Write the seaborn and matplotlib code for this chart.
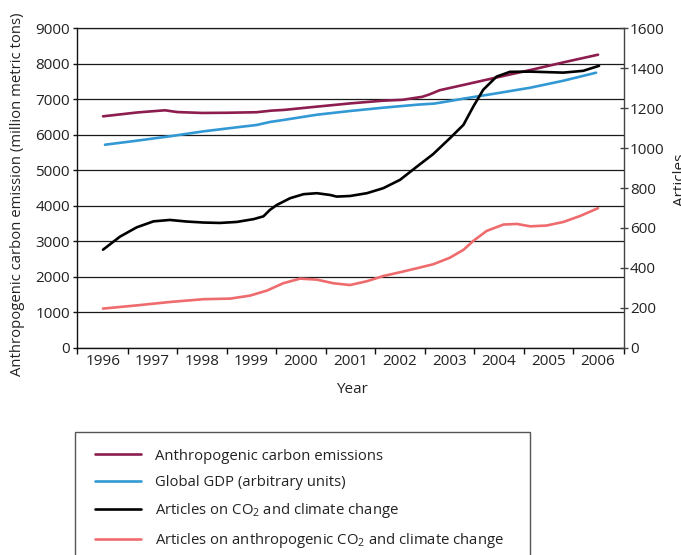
import matplotlib
matplotlib.use("Agg")
import matplotlib.pyplot as plt
from matplotlib.patches import Rectangle
import seaborn as sns

# Anthropogenic carbon emissions (million metric tons), left axis
carbon_years = [1996.0, 1996.7, 1997.25, 1997.5, 1998.0, 1998.5, 1999.1, 1999.4,
                1999.65, 2000.3, 2001.0, 2001.65, 2002.05, 2002.45, 2002.6, 2002.8,
                2003.3, 2004.0, 2004.65, 2005.3, 2006.0]
carbon_vals = [6520, 6630, 6690, 6640, 6615, 6620, 6635, 6680,
               6700, 6790, 6885, 6960, 6985, 7070, 7140, 7255,
               7410, 7630, 7830, 8040, 8256]

# Global GDP (arbitrary units), left axis
gdp_years = [1996.04, 1996.68, 1997.35, 1998.03, 1998.7, 1999.1, 1999.37, 1999.64,
             2000.32, 2000.99, 2001.66, 2002.34, 2002.7, 2003.0, 2003.28, 2003.95,
             2004.63, 2005.3, 2005.96]
gdp_vals = [5720, 5833, 5957, 6097, 6210, 6275, 6360, 6416,
            6565, 6670, 6763, 6847, 6880, 6950, 7017, 7168,
            7326, 7523, 7749]

# Articles on CO2 and climate change, right axis
co2_years = [1996.0, 1996.34, 1996.68, 1997.02, 1997.35, 1997.69, 1998.03, 1998.36,
             1998.7, 1999.04, 1999.24, 1999.37, 1999.51, 1999.78, 2000.05, 2000.32,
             2000.59, 2000.72, 2000.99, 2001.33, 2001.66, 2002.0, 2002.34, 2002.67,
             2003.01, 2003.28, 2003.48, 2003.68, 2003.95, 2004.22, 2004.63, 2005.3,
             2005.7, 2006.02]
co2_vals = [491, 556, 603, 633, 640, 632, 627, 625,
            630, 644, 658, 690, 715, 749, 769, 774,
            765, 757, 760, 774, 799, 841, 907, 970,
            1050, 1116, 1208, 1292, 1358, 1382, 1383, 1378,
            1387, 1412]

# Articles on anthropogenic CO2 and climate change, right axis
anthro_years = [1996.0, 1996.68, 1997.35, 1998.03, 1998.57, 1998.97, 1999.31, 1999.64,
                1999.98, 2000.32, 2000.65, 2000.99, 2001.33, 2001.66, 2002.0, 2002.34,
                2002.67, 2003.0, 2003.28, 2003.48, 2003.75, 2004.09, 2004.36, 2004.63,
                2004.96, 2005.3, 2005.64, 2006.0]
anthro_vals = [196, 212, 229, 243, 246, 261, 286, 323,
               346, 341, 323, 314, 333, 359, 378, 398,
               418, 450, 490, 535, 585, 617, 620, 608,
               612, 630, 660, 699]

year_labels = [str(y) for y in range(1996, 2007)]
left_ticks = list(range(0, 9001, 1000))
right_ticks = list(range(0, 1601, 200))

labels = [
    "Anthropogenic carbon emissions",
    "Global GDP (arbitrary units)",
    "Articles on CO$_2$ and climate change",
    "Articles on anthropogenic CO$_2$ and climate change",
]
colors = ["#8c1d4e", "#3399d4", "#000000", "#ee6b6e"]

sns.set_theme(style="ticks")
plt.rcParams["font.family"] = ["Open Sans", "DejaVu Sans"]
plt.rcParams["mathtext.fontset"] = "custom"
plt.rcParams["mathtext.rm"] = "Open Sans"
plt.rcParams["mathtext.it"] = "Open Sans:italic"
plt.rcParams["mathtext.bf"] = "Open Sans:bold"

FS = 11
LEG_FS = 10.75
TXT = "#222222"

fig = plt.figure(figsize=(6.81, 5.55), dpi=100)
ax1 = fig.add_axes([0.1135, 0.3735, 0.8032, 0.5755])
ax2 = ax1.twinx()

lw = 1.9
sns.lineplot(x=carbon_years, y=carbon_vals, ax=ax1, color=colors[0], lw=lw, label=labels[0], legend=False)
sns.lineplot(x=gdp_years, y=gdp_vals, ax=ax1, color=colors[1], lw=lw, label=labels[1], legend=False)
sns.lineplot(x=co2_years, y=co2_vals, ax=ax2, color=colors[2], lw=lw, label=labels[2], legend=False)
sns.lineplot(x=anthro_years, y=anthro_vals, ax=ax2, color=colors[3], lw=lw, label=labels[3], legend=False)

x_lo, x_hi = 1995.48, 2006.53
ax1.set_xlim(x_lo, x_hi)
ax1.set_ylim(0, 9000)
ax2.set_ylim(0, 1600)

# horizontal grid from the left axis
ax1.set_yticks(left_ticks)
ax1.grid(axis="y", color="#1a1a1a", lw=0.9)
ax1.grid(axis="x", visible=False)
ax1.set_axisbelow(True)

# x ticks sit between the years; the year labels are centred on minor ticks
major_x = [x_lo] + [y + 0.5 for y in range(1996, 2006)] + [x_hi]
ax1.set_xticks(major_x)
ax1.set_xticklabels([])
ax1.set_xticks(list(range(1996, 2007)), minor=True)
ax1.set_xticklabels(year_labels, minor=True)
ax1.tick_params(axis="x", which="major", direction="out", length=4, width=1, color="#111111")
ax1.tick_params(axis="x", which="minor", length=0, pad=4.5, labelsize=FS, labelcolor=TXT)
ax1.tick_params(axis="y", direction="out", length=3, width=1, color="#111111",
                pad=2.4, labelsize=FS, labelcolor=TXT)

ax2.set_yticks(right_ticks)
ax2.tick_params(axis="y", direction="inout", length=6, width=1, color="#444444",
                pad=1.2, labelsize=FS, labelcolor=TXT)
ax2.grid(False)

for side in ["left", "bottom"]:
    ax1.spines[side].set_color("#111111")
    ax1.spines[side].set_linewidth(1)
ax1.spines["top"].set_color("#1a1a1a")
ax1.spines["top"].set_linewidth(0.9)
ax1.spines["right"].set_visible(False)
ax2.spines["right"].set_color("#444444")
ax2.spines["right"].set_linewidth(1)
for side in ["left", "top", "bottom"]:
    ax2.spines[side].set_visible(False)

ax1.set_ylabel("Anthropogenic carbon emission (million metric tons)", fontsize=10.7, color=TXT)
ax1.yaxis.set_label_coords(-0.0956, 0.481)
ax1.set_xlabel("Year", fontsize=FS, color=TXT)
ax1.xaxis.set_label_coords(0.502, -0.108)
ax2.set_ylabel("Articles", fontsize=FS, color=TXT, rotation=90)
ax2.yaxis.set_label_coords(1.089, 0.525)
ax2.yaxis.label.set_va("top")

# legend below the plot inside a plain box
handles = ax1.get_lines()[:2] + ax2.get_lines()[:2]
fig.legend(handles, labels, loc="upper left", bbox_to_anchor=(0.1395, 0.1915),
           frameon=False, fontsize=LEG_FS, labelcolor=TXT, borderpad=0, borderaxespad=0,
           handlelength=3.1, handletextpad=0.9, labelspacing=0.74)
fig.add_artist(Rectangle((0.1101, -0.01), 0.668, 0.2316, transform=fig.transFigure,
                         fill=False, edgecolor="#555555", lw=1))

fig.savefig("out.png", dpi=100)
